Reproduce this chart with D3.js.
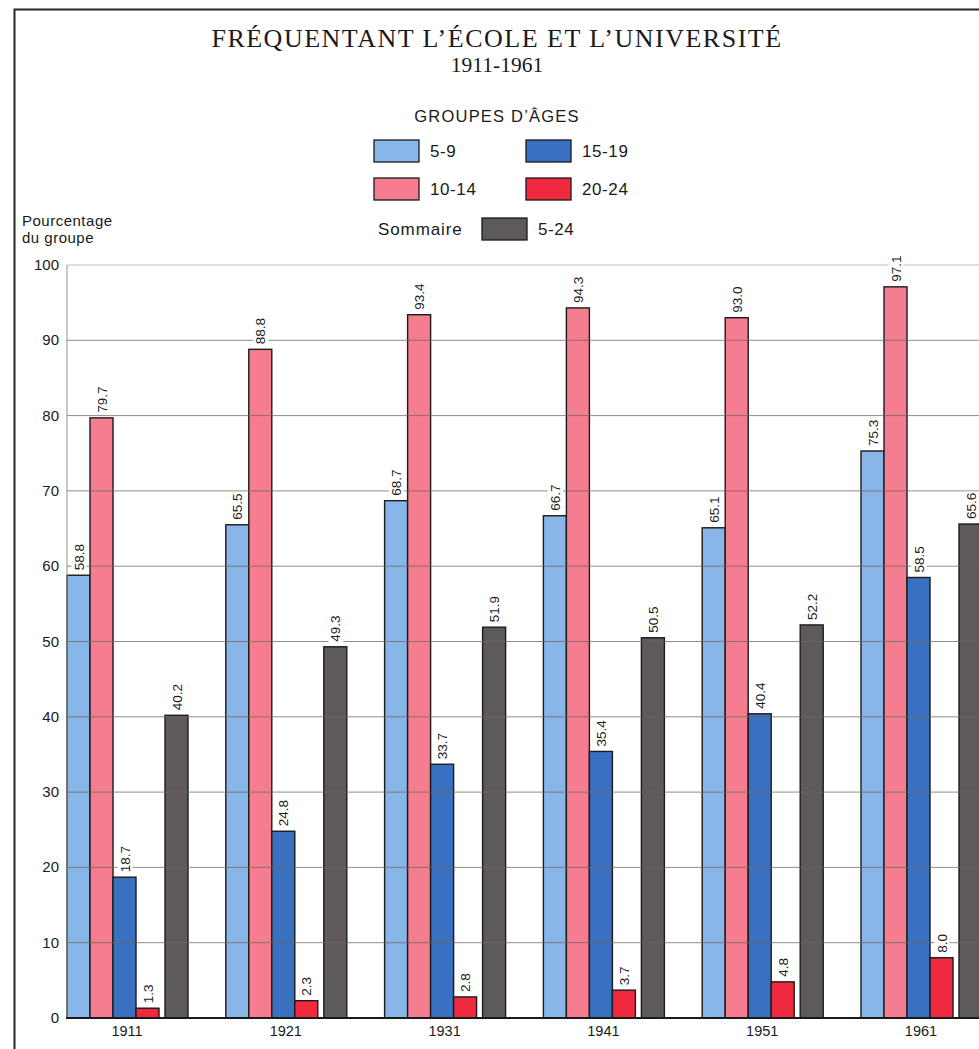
<!DOCTYPE html>
<html>
<head>
<meta charset="utf-8">
<script src="https://cdn.jsdelivr.net/npm/d3@7"></script>
<style>
  body { margin: 0; background: #fff; }
  svg { display: block; }
</style>
</head>
<body>
<div id="chart"></div>
<script>
// données
const years = ["1911", "1921", "1931", "1941", "1951", "1961"];
const ages = ["5-9", "10-14", "15-19", "20-24"];
const v5_9 = [58.8, 65.5, 68.7, 66.7, 65.1, 75.3];
const v10_14 = [79.7, 88.8, 93.4, 94.3, 93.0, 97.1];
const v15_19 = [18.7, 24.8, 33.7, 35.4, 40.4, 58.5];
const v20_24 = [1.3, 2.3, 2.8, 3.7, 4.8, 8.0];
const sommaire = [40.2, 49.3, 51.9, 50.5, 52.2, 65.6];
const yTicks = [0, 10, 20, 30, 40, 50, 60, 70, 80, 90, 100];

const series = { "5-9": v5_9, "10-14": v10_14, "15-19": v15_19, "20-24": v20_24 };
const colors = {
  "5-9": "#88b6e8",
  "10-14": "#f47d8f",
  "15-19": "#3a70c0",
  "20-24": "#ef2a3e",
  "5-24": "#5f5a5a"
};

const width = 979;
const height = 1049;
const sans = "'Liberation Sans', Arial, sans-serif";
const serif = "'Liberation Serif', 'Times New Roman', serif";

const svg = d3.select("#chart")
  .append("svg")
  .attr("width", width)
  .attr("height", height);

// cadre
svg.append("path")
  .attr("d", "M14.5,1049 V9.5 H979")
  .attr("fill", "none")
  .attr("stroke", "#2a2624")
  .attr("stroke-width", 2);

// titre
svg.append("text")
  .attr("x", 497).attr("y", 47)
  .attr("text-anchor", "middle")
  .attr("font-family", serif)
  .attr("font-size", 26)
  .attr("letter-spacing", 1.5)
  .attr("fill", "#1a1a1a")
  .text("FRÉQUENTANT L’ÉCOLE ET L’UNIVERSITÉ");
svg.append("text")
  .attr("x", 497).attr("y", 72)
  .attr("text-anchor", "middle")
  .attr("font-family", serif)
  .attr("font-size", 21.5)
  .attr("fill", "#1a1a1a")
  .text("1911-1961");

// légende
const leg = svg.append("g").attr("font-family", sans).attr("fill", "#1a1a1a");
leg.append("text")
  .attr("x", 497).attr("y", 122)
  .attr("text-anchor", "middle")
  .attr("font-size", 16.5)
  .attr("letter-spacing", 1.2)
  .text("GROUPES D’ÂGES");

const legItems = [
  { key: "5-9", x: 374, y: 140 },
  { key: "15-19", x: 526, y: 140 },
  { key: "10-14", x: 374, y: 178 },
  { key: "20-24", x: 526, y: 178 },
  { key: "5-24", x: 482, y: 218 }
];
legItems.forEach(d => {
  leg.append("rect")
    .attr("x", d.x).attr("y", d.y)
    .attr("width", 45).attr("height", 22)
    .attr("fill", colors[d.key])
    .attr("stroke", "#1a1a1a")
    .attr("stroke-width", 1.3);
  leg.append("text")
    .attr("x", d.x + 56).attr("y", d.y + 17)
    .attr("font-size", 17)
    .attr("letter-spacing", 0.6)
    .text(d.key);
});
leg.append("text")
  .attr("x", 378).attr("y", 235)
  .attr("font-size", 17)
  .attr("letter-spacing", 0.9)
  .text("Sommaire");

// titre de l'axe
const ylab = svg.append("text")
  .attr("font-family", sans)
  .attr("font-size", 15)
  .attr("letter-spacing", 0.5)
  .attr("fill", "#1a1a1a");
ylab.append("tspan").attr("x", 22).attr("y", 226).text("Pourcentage");
ylab.append("tspan").attr("x", 22).attr("y", 243).text("du groupe");

// échelles
const x0 = d3.scaleBand()
  .domain(years)
  .range([67, 67 + 158.8 * 6])
  .paddingInner(0.235)
  .paddingOuter(0.1175)
  .align(0);

const x1 = d3.scaleBand()
  .domain(ages)
  .range([0, 92]);

const y = d3.scaleLinear()
  .domain([0, 100])
  .range([1018, 265]);

// barres
const bars = [];
years.forEach((yr, i) => {
  ages.forEach(a => {
    bars.push({ year: yr, key: a, value: series[a][i], x: x0(yr) + x1(a), w: x1.bandwidth() });
  });
  bars.push({ year: yr, key: "5-24", value: sommaire[i], x: x0(yr) + 98, w: 23 });
});

svg.append("g")
  .selectAll("rect")
  .data(bars)
  .join("rect")
  .attr("x", d => d.x)
  .attr("y", d => y(d.value))
  .attr("width", d => d.w)
  .attr("height", d => y(0) - y(d.value))
  .attr("fill", d => colors[d.key])
  .attr("stroke", "#1c1a1a")
  .attr("stroke-width", 1.4);

// quadrillage par-dessus
svg.append("g")
  .selectAll("line")
  .data(yTicks.filter(t => t > 0))
  .join("line")
  .attr("x1", 67).attr("x2", width)
  .attr("y1", d => y(d)).attr("y2", d => y(d))
  .attr("stroke", d => d === 100 ? "#b0a89c" : "#6e655a")
  .attr("stroke-opacity", 0.75)
  .attr("stroke-width", 1);

// axe vertical
svg.append("line")
  .attr("x1", 67).attr("x2", 67)
  .attr("y1", y(100)).attr("y2", y(0))
  .attr("stroke", "#9a9288")
  .attr("stroke-width", 1);

// axe horizontal
svg.append("line")
  .attr("x1", 66).attr("x2", width)
  .attr("y1", y(0)).attr("y2", y(0))
  .attr("stroke", "#1a1a1a")
  .attr("stroke-width", 2);

// graduations
svg.append("g")
  .attr("font-family", sans)
  .attr("font-size", 15)
  .attr("fill", "#1a1a1a")
  .attr("text-anchor", "end")
  .selectAll("text")
  .data(yTicks)
  .join("text")
  .attr("x", 59)
  .attr("y", d => y(d) + 5)
  .text(d => d);

svg.append("g")
  .attr("font-family", sans)
  .attr("font-size", 14.5)
  .attr("fill", "#1a1a1a")
  .attr("text-anchor", "middle")
  .selectAll("text")
  .data(years)
  .join("text")
  .attr("x", d => x0(d) + 60)
  .attr("y", 1036)
  .text(d => d);

// étiquettes des valeurs
const labels = svg.append("g")
  .attr("font-family", sans)
  .attr("font-size", 13.5)
  .attr("fill", "#1a1a1a")
  .selectAll("g")
  .data(bars)
  .join("g")
  .attr("transform", d => `translate(${d.x + d.w / 2 + 5},${y(d.value) - 5}) rotate(-90)`);

labels.append("text")
  .text(d => d.value.toFixed(1))
  .each(function () {
    const b = this.getBBox();
    d3.select(this.parentNode).insert("rect", "text")
      .attr("x", b.x - 1).attr("y", b.y)
      .attr("width", b.width + 2).attr("height", b.height)
      .attr("fill", "#fff");
  });
</script>
</body>
</html>
